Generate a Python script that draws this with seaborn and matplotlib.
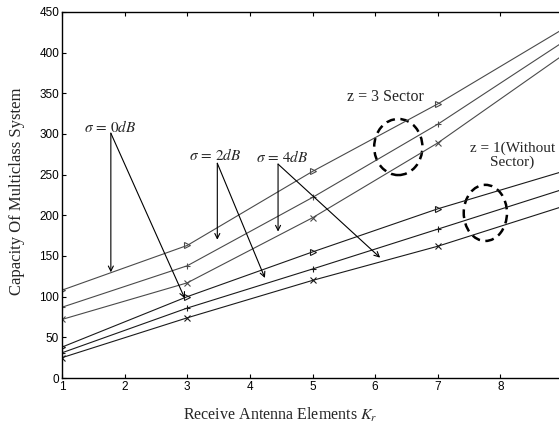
import matplotlib
matplotlib.use("Agg")
import matplotlib.pyplot as plt
from matplotlib.patches import Ellipse
import seaborn as sns
import pandas as pd

# ---- data ----
K = [1, 3, 5, 7, 9]
sector3_0dB = [108, 163, 254, 337, 429]
sector3_2dB = [87, 138, 222, 312, 413]
sector3_4dB = [72, 117, 197, 289, 397]
nosector_0dB = [38, 100, 155, 208, 254]
nosector_2dB = [31, 86, 134, 183, 232]
nosector_4dB = [25, 74, 120, 162, 211]
x_ticks = [1, 2, 3, 4, 5, 6, 7, 8]
y_ticks = [0, 50, 100, 150, 200, 250, 300, 350, 400, 450]

sns.set_theme(style="white")
plt.rcParams["font.family"] = ["Liberation Sans", "DejaVu Sans"]
plt.rcParams["mathtext.fontset"] = "stix"

fig = plt.figure(figsize=(5.59, 4.23), dpi=100)
ax = fig.add_axes([62 / 559, 45 / 423, (563 - 62) / 559, 366 / 423])

series = [
    (sector3_0dB, ">", "#4a4a4a"),
    (sector3_2dB, "+", "#4a4a4a"),
    (sector3_4dB, "x", "#4a4a4a"),
    (nosector_0dB, ">", "#1a1a1a"),
    (nosector_2dB, "+", "#1a1a1a"),
    (nosector_4dB, "x", "#1a1a1a"),
]
for vals, mk, col in series:
    df = pd.DataFrame({"K": K, "C": vals})
    sns.lineplot(data=df, x="K", y="C", ax=ax, color=col, lw=0.8,
                 marker=mk, markersize=5,
                 markerfacecolor="none", markeredgecolor=col,
                 markeredgewidth=0.8, clip_on=True)

ax.set_xlim(1, 9)
ax.set_ylim(0, 450)
ax.set_xticks(x_ticks)
ax.set_yticks(y_ticks)
ax.tick_params(direction="in", length=3, width=0.8, labelsize=8.5,
               top=True, right=True, bottom=True, left=True, pad=2, colors="black")
for s in ax.spines.values():
    s.set_color("black")
    s.set_linewidth(1.0)

ax.set_xlabel(r"Receive Antenna Elements $K_r$", fontsize=11.5,
              family=["Liberation Serif"])
ax.set_ylabel("Capacity Of Multiclass System", fontsize=12,
              family=["Liberation Serif"])
ax.xaxis.set_label_coords(0.435, -0.075)
ax.yaxis.set_label_coords(-0.074, 0.51)

# annotations
arrow = dict(arrowstyle="->", lw=0.8, color="black", shrinkA=0, shrinkB=0,
             mutation_scale=9)
fs = 11
ax.text(1.77, 309, r"$\sigma\,=\,0dB$", ha="center", va="center", fontsize=fs)
ax.annotate("", xy=(1.78, 130), xytext=(1.78, 301), arrowprops=arrow)
ax.annotate("", xy=(2.96, 98), xytext=(1.78, 301), arrowprops=arrow)

ax.text(3.44, 274, r"$\sigma\,=\,2dB$", ha="center", va="center", fontsize=fs)
ax.annotate("", xy=(3.48, 170), xytext=(3.48, 264), arrowprops=arrow)
ax.annotate("", xy=(4.24, 123), xytext=(3.48, 264), arrowprops=arrow)

ax.text(4.51, 272, r"$\sigma\,=\,4dB$", ha="center", va="center", fontsize=fs)
ax.annotate("", xy=(4.45, 180), xytext=(4.45, 263), arrowprops=arrow)
ax.annotate("", xy=(6.08, 148), xytext=(4.45, 263), arrowprops=arrow)

ax.text(6.16, 346, "z = 3 Sector", ha="center", va="center", fontsize=11.5,
        family=["Liberation Serif"])
ax.text(8.19, 274, "z = 1(Without\nSector)", ha="center", va="center",
        fontsize=11, family=["Liberation Serif"], linespacing=1.0)

for (cx, cy, w, h) in [(6.37, 284, 0.77, 69), (7.76, 203, 0.69, 69)]:
    ax.add_patch(Ellipse((cx, cy), w, h, fill=False, ec="black", lw=1.8,
                         ls=(0, (3.5, 2.2))))

fig.savefig("out.png", dpi=100)
